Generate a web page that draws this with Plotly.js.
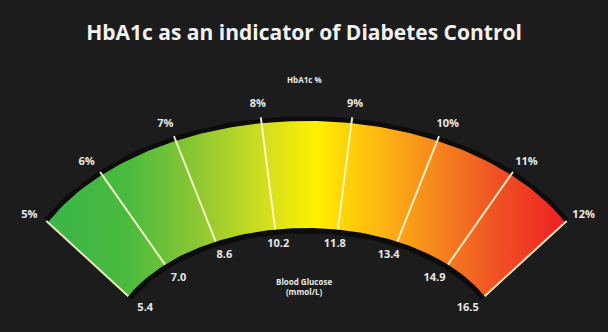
<!DOCTYPE html>
<html><head><meta charset="utf-8">
<script src="https://cdn.plot.ly/plotly-3.0.1.min.js"></script>
<style>html,body{margin:0;padding:0;background:#1c1c1c;}#chart{width:608px;height:332px;}</style>
</head><body><div id="chart"></div>
<script>
// ---- data ----
const hba1c = [5, 6, 7, 8, 9, 10, 11, 12];
const hba1cLabels = ['5%', '6%', '7%', '8%', '9%', '10%', '11%', '12%'];
const glucose = [5.4, 7.0, 8.6, 10.2, 11.8, 13.4, 14.9, 16.5];
const glucoseLabels = ['5.4', '7.0', '8.6', '10.2', '11.8', '13.4', '14.9', '16.5'];

// ---- gauge geometry (style only) ----
const G = {
  cx: 306.5, phi0: 153, step: 18,
  tick: {cy: 309, a: 292, b: 194},
  fillOuter: {cy: 306, a: 290, b: 185},
  inner: {cy: 353, a: 200, b: 125},
  outerLab: {cy: 309, a: 311, b: 207},
  innerLab: {cy: 363.5, a: 181, b: 121}
};
const rad = d => d * Math.PI / 180;
const phi = v => G.phi0 - G.step * (v - hba1c[0]);        // HbA1c value -> gauge angle
const pt = (e, p) => [G.cx + e.a * Math.cos(rad(p)), e.cy - e.b * Math.sin(rad(p))];

const pStart = phi(hba1c[0]), pEnd = phi(hba1c[hba1c.length - 1]);
function arc(e) {
  const xs = [], ys = [];
  for (let p = pStart; p >= pEnd - 1e-9; p -= 1) { const q = pt(e, p); xs.push(q[0]); ys.push(q[1]); }
  return [xs, ys];
}
const outerArc = arc(G.fillOuter), innerArc = arc(G.inner);
const fillX = outerArc[0].concat(innerArc[0].slice().reverse());
const fillY = outerArc[1].concat(innerArc[1].slice().reverse());
fillX.push(fillX[0]); fillY.push(fillY[0]);

const tickX = [], tickY = [];
hba1c.forEach(v => {
  const a = pt(G.inner, phi(v)), b = pt(G.tick, phi(v));
  tickX.push(a[0], b[0], null); tickY.push(a[1], b[1], null);
});

const outerLabPts = hba1c.map(v => pt(G.outerLab, phi(v)));
const innerLabPts = hba1c.map(v => pt(G.innerLab, phi(v)));

const labFont = {family: 'Open Sans', size: 11, color: '#e8e8e8', weight: 700};

const traces = [
  {x: outerArc[0], y: outerArc[1], mode: 'lines', line: {color: 'rgba(0,0,0,0.55)', width: 10}, hoverinfo: 'skip'},
  {x: innerArc[0], y: innerArc[1], mode: 'lines', line: {color: 'rgba(0,0,0,0.55)', width: 10}, hoverinfo: 'skip'},
  {x: fillX, y: fillY, mode: 'lines', fill: 'toself', line: {width: 0, color: 'rgba(0,0,0,0)'},
   fillgradient: {type: 'horizontal', start: 45, stop: 567, colorscale: [
     [0, 'rgb(57,181,74)'], [0.16, 'rgb(75,186,62)'], [0.3, 'rgb(145,200,50)'],
     [0.42, 'rgb(210,222,32)'], [0.52, 'rgb(255,240,0)'], [0.6, 'rgb(255,200,12)'],
     [0.72, 'rgb(248,148,28)'], [0.85, 'rgb(240,88,35)'], [1, 'rgb(236,30,36)']]},
   hoverinfo: 'skip'},
  {x: tickX, y: tickY, mode: 'lines', line: {color: 'rgba(252,248,205,0.9)', width: 2}, hoverinfo: 'skip'},
  {x: outerLabPts.map(p => p[0]), y: outerLabPts.map(p => p[1]), mode: 'text', text: hba1cLabels,
   textfont: labFont, textposition: 'middle center', hoverinfo: 'skip'},
  {x: innerLabPts.map(p => p[0]), y: innerLabPts.map(p => p[1]), mode: 'text', text: glucoseLabels,
   textfont: labFont, textposition: 'middle center', hoverinfo: 'skip'}
];

const layout = {
  width: 608, height: 332,
  margin: {l: 0, r: 0, t: 0, b: 0},
  paper_bgcolor: '#1c1c1c', plot_bgcolor: '#1c1c1c',
  showlegend: false,
  title: {text: 'HbA1c as an indicator of Diabetes Control', x: 0.5, xanchor: 'center',
          y: 1 - 33 / 332, yanchor: 'middle', yref: 'container',
          font: {family: 'Open Sans', size: 21, color: '#f2f2f2', weight: 700}},
  xaxis: {range: [0, 608], visible: false, fixedrange: true},
  yaxis: {range: [332, 0], visible: false, fixedrange: true},
  annotations: [
    {text: 'HbA1c %', x: 304, y: 79, xref: 'x', yref: 'y', showarrow: false,
     font: {family: 'Open Sans', size: 8, color: '#e8e8e8', weight: 700}},
    {text: 'Blood Glucose<br>(mmol/L)', x: 304, y: 286, xref: 'x', yref: 'y', showarrow: false,
     font: {family: 'Open Sans', size: 8, color: '#e8e8e8', weight: 700}}
  ]
};

Plotly.newPlot('chart', traces, layout, {displayModeBar: false, staticPlot: true});
</script>
</body></html>
